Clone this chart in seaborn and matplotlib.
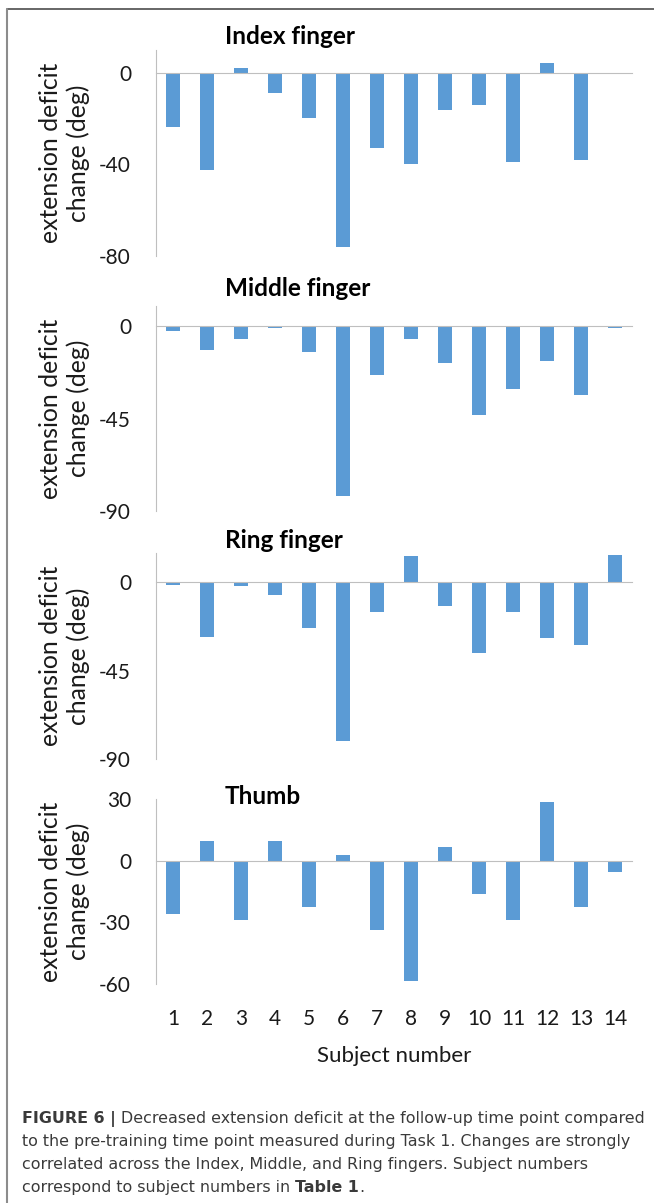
import numpy as np
import matplotlib
matplotlib.use('Agg')
import matplotlib.pyplot as plt
from matplotlib.lines import Line2D
import seaborn as sns

# データ
subjects = list(range(1, 15))
index_vals = [-23.5, -42.5, 2, -9, -19.5, -76, -33, -40, -16, -14, -39, 4.5, -38, 0]
middle_vals = [-2, -11.5, -6, -0.8, -12.5, -82.5, -23.5, -6, -18, -43, -30.5, -17, -33.5, -0.5]
ring_vals = [-1.5, -28, -2, -6.5, -23, -81, -15, 13.5, -12, -36, -15, -28.5, -32, 14]
thumb_vals = [-26, 9.5, -29, 9.5, -22.5, 3, -33.5, -58.5, 6.5, -16, -29, 28.5, -22.5, -5.5]

panel_titles = ['Index finger', 'Middle finger', 'Ring finger', 'Thumb']
panel_values = [index_vals, middle_vals, ring_vals, thumb_vals]
panel_ylims = [(-80, 10), (-90, 10), (-90, 15), (-60, 30)]
panel_yticks = [[0, -40, -80], [0, -45, -90], [0, -45, -90], [30, 0, -30, -60]]

ylabel = 'extension deficit\nchange (deg)'
xlabel = 'Subject number'

cap_lines = [
    [('FIGURE 6 |', 'bold'), (' Decreased extension deficit at the follow-up time point compared', 'normal')],
    [('to the pre-training time point measured during Task 1. Changes are strongly', 'normal')],
    [('correlated across the Index, Middle, and Ring fingers. Subject numbers', 'normal')],
    [('correspond to subject numbers in ', 'normal'), ('Table 1', 'bold'), ('.', 'normal')],
]

sns.set_style('white')
plt.rcParams['font.family'] = ['Lato', 'DejaVu Sans']
plt.rcParams['axes.unicode_minus'] = False

W, H = 654, 1203
fig = plt.figure(figsize=(W / 100, H / 100), dpi=100)

bar_color = '#5B9BD5'
axis_color = '#BFBFBF'
text_color = '#1a1a1a'

# 各パネルの位置（ピクセル: 上端, 下端）
left_px, right_px = 156, 632
panel_px = [(50, 256), (306, 511), (553, 759), (799, 984)]
title_baseline = [44, 296, 548, 804]

for i, (title, vals) in enumerate(zip(panel_titles, panel_values)):
    top, bottom = panel_px[i]
    ax = fig.add_axes([left_px / W, 1 - bottom / H,
                       (right_px - left_px) / W, (bottom - top) / H])
    sns.barplot(x=subjects, y=vals, color=bar_color, width=0.4,
                linewidth=0, saturation=1, ax=ax)
    ax.set_xlim(-0.5, len(subjects) - 0.5)
    ax.set_ylim(*panel_ylims[i])
    ax.set_yticks(panel_yticks[i])
    ax.set_yticklabels([str(t) for t in panel_yticks[i]])

    for s in ['top', 'right']:
        ax.spines[s].set_visible(False)
    ax.spines['left'].set_color(axis_color)
    ax.spines['bottom'].set_color(axis_color)
    ax.spines['bottom'].set_position(('data', 0))

    # カテゴリ境界の目盛り
    ax.set_xticks(np.arange(-0.5, len(subjects), 1))
    ax.tick_params(axis='x', direction='out', length=7, width=1,
                   color=axis_color, labelbottom=False)
    ax.tick_params(axis='y', direction='out', length=5, width=1,
                   color=axis_color, labelsize=15, labelcolor=text_color, pad=13)
    ax.set_xlabel('')
    ax.set_ylabel(ylabel, fontsize=17.8, color=text_color, linespacing=1.22)
    ax.yaxis.set_label_coords(-0.138, 0.5)

    fig.text(225 / W, 1 - title_baseline[i] / H, title, fontsize=17.5,
             fontweight='bold', color='black', va='baseline', ha='left')

    if i == len(panel_titles) - 1:
        sec = ax.secondary_xaxis(0)
        sec.set_xticks(range(len(subjects)))
        sec.set_xticklabels([str(s) for s in subjects])
        sec.tick_params(length=0, pad=18, labelsize=15, labelcolor=text_color)
        sec.spines['bottom'].set_visible(False)
        sec.set_xlabel(xlabel, fontsize=16, color=text_color, labelpad=12)

# 枠線
fig.add_artist(Line2D([7 / W, 1], [1 - 8.5 / H, 1 - 8.5 / H],
                      transform=fig.transFigure, color='#4d4d4d', lw=1.2))
fig.add_artist(Line2D([7 / W, 7 / W], [0, 1 - 8.5 / H],
                      transform=fig.transFigure, color='#8c8c8c', lw=1.5))

# キャプション（1行目の幅に合わせて文字サイズを決める）
cap_font = ['DejaVu Sans']
cap_color = '#3a3a3a'
cap_left, cap_right = 22, 646
cap_baselines = [1123, 1146, 1169, 1192]

fig.canvas.draw()
renderer = fig.canvas.get_renderer()


def put_line(pieces, yb, size):
    x = cap_left
    arts = []
    for txt, wt in pieces:
        t = fig.text(x / W, 1 - yb / H, txt, fontsize=size, fontweight=wt,
                     family=cap_font, color=cap_color, va='baseline', ha='left')
        x += t.get_window_extent(renderer).width
        arts.append(t)
    return x - cap_left, arts


w, tmp = put_line(cap_lines[0], cap_baselines[0], 10)
for t in tmp:
    t.remove()
cap_size = 10 * (cap_right - cap_left) / w

for pieces, yb in zip(cap_lines, cap_baselines):
    put_line(pieces, yb, cap_size)

fig.savefig('out.png', dpi=100)
